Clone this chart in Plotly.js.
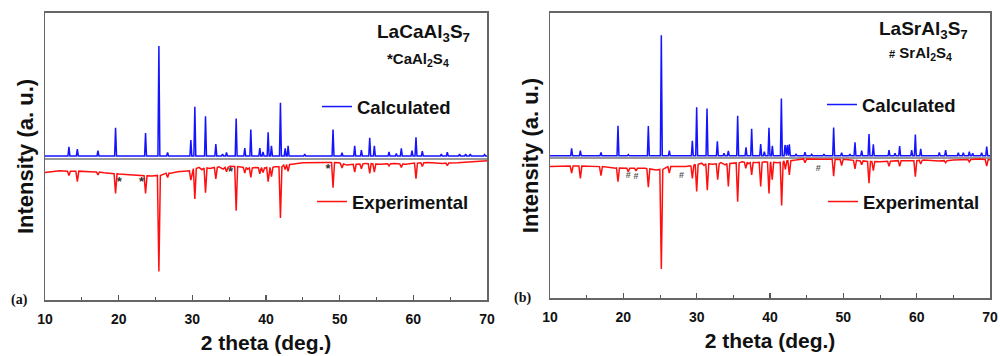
<!DOCTYPE html>
<html>
<head>
<meta charset="utf-8">
<script src="https://cdn.plot.ly/plotly-3.0.1.min.js"></script>
<style>html,body{margin:0;padding:0;background:#fff;}#chart{width:1000px;height:356px;}</style>
</head>
<body>
<div id="chart"></div>
<script>
// ---------- DATA (2 theta in deg, intensity in arbitrary units; 0 = reference line) ----------
var xRange = [10, 70];
var xTicks = [10, 20, 30, 40, 50, 60, 70];

// Panel (a) LaCaAl3S7 - calculated pattern
var calcA_base = 1.0;
var calcA_pos = [13.25,14.39,17.19,19.58,23.65,25.46,26.64,29.80,30.34,31.79,33.19,34.10,34.64,35.95,37.12,37.94,39.16,39.6,40.29,40.74,41.96,42.6,43.0,45.26,49.10,50.32,52.04,52.95,54.08,54.71,56.70,57.69,58.37,59.82,60.36,61.22,63.8,64.61,66.28,67.1,67.73,69.67];
var calcA_top = [4.2,3.4,2.8,10.8,9.0,39.3,2.2,6.5,18.1,14.8,5.1,1.6,2.2,14.0,3.7,10.2,3.7,2.4,9.2,4.5,19.5,3.6,4.5,1.6,10.2,2.1,4.5,3.0,7.3,4.5,2.4,1.8,3.6,2.8,7.5,2.7,1.6,2.3,1.6,1.6,1.6,1.5];

// Panel (a) - experimental pattern (inverted)
var expA_bgX = [10,12,16,18,20,22,24.5,26.9,28,29.3,30.9,31.3,32.4,33.6,34.2,35.1,36.6,37.5,38.6,39.9,41.2,43.5,45,48,50,51,53.5,55.5,57.5,59,62,64,66,68,70];
var expA_bgY = [-4.8,-4.2,-4.5,-4.9,-5.3,-5.7,-6.0,-5.1,-4.5,-4.2,-3.0,-3.8,-3.4,-2.8,-3.6,-2.6,-2.9,-3.6,-3.0,-3.3,-2.8,-1.9,-1.4,-1.3,-1.4,-2.2,-1.6,-1.9,-1.6,-1.9,-1.3,-1.6,-1.4,-1.0,-0.7];
var expA_pos  = [13.25,14.39,17.19,19.58,23.65,25.46,26.64,29.80,30.34,31.79,33.19,34.64,35.95,37.12,37.94,39.16,39.6,40.29,40.74,41.96,42.6,43.0,49.10,50.32,52.04,52.95,54.08,54.71,56.70,58.37,60.36,61.22,64.61];
var expA_tip  = [-5.8,-8.0,-5.6,-12.1,-12.1,-39.3,-6.5,-7.4,-14.0,-11.8,-7.0,-4.5,-18.1,-5.0,-6.5,-5.2,-4.8,-8.0,-6.2,-20.6,-3.7,-4.4,-10.1,-3.2,-4.6,-3.5,-5.1,-4.6,-2.5,-3.0,-6.9,-2.7,-2.4];
var expA_foot = [-4.3,-4.3,-4.6,-5.2,-5.9,-5.8,-5.0,-4.2,-3.4,-3.2,-3.0,-3.0,-2.7,-3.0,-3.2,-3.1,-3.2,-3.0,-3.0,-2.8,-2.2,-2.0,-1.3,-1.8,-1.9,-1.8,-1.7,-1.8,-1.7,-1.8,-1.5,-1.4,-1.5];

// Panel (a) impurity marks (CaAl2S4)
var markA_x = [20.08, 23.11, 35.18, 48.43];
var markA_y = [-8.4, -8.4, -4.9, -3.7];

// Panel (b) LaSrAl3S7 - calculated pattern
var calcB_base = 0.8;
var calcB_pos = [12.95,14.14,16.95,19.27,20.68,23.41,25.18,26.27,29.41,30.0,31.41,32.82,33.73,34.32,35.59,36.73,37.5,38.73,39.23,39.86,40.32,41.55,42.05,42.36,42.64,43.55,44.77,45.68,47.36,48.68,49.77,50.9,51.59,52.5,53.5,54.09,56.23,57.05,57.68,59.32,59.82,60.55,63.09,63.95,65.68,66.36,67.18,67.64,68.86,69.55];
var calcB_top = [3.4,2.6,2.0,11.3,1.2,11.2,43.1,2.6,6.1,17.8,17.4,5.9,1.7,2.5,14.8,3.8,10.3,4.9,2.2,10.6,4.3,20.9,4.6,4.6,4.8,1.3,2.1,1.3,1.4,10.7,1.9,1.4,5.5,2.6,8.4,4.8,2.8,1.7,4.2,2.8,8.3,3.2,2.0,2.8,1.9,1.9,2.2,1.7,1.9,4.0];

// Panel (b) - experimental pattern (inverted)
var expB_bgX = [10,12,16,19,21,23,24.5,26.9,28.5,29.2,30.7,31.0,32.2,33.3,33.9,35.0,36.2,37.0,38.0,39.3,41.0,43.5,45,47,50,51,52.5,55,57,59,61,63,65,67,68.5,70];
var expB_bgY = [-3.0,-2.7,-3.0,-3.6,-3.6,-3.6,-4.2,-3.0,-3.0,-2.7,-1.8,-2.6,-2.2,-1.6,-2.4,-1.8,-1.3,-2.0,-1.6,-1.3,-1.6,-0.7,-0.3,-0.4,-0.4,-0.7,-1.0,-1.3,-0.9,-0.9,-0.7,-1.0,-0.7,-0.5,-0.3,-0.6];
var expB_pos  = [12.95,14.14,16.95,19.27,20.68,21.73,23.41,25.18,26.27,29.41,30.0,31.45,32.87,34.32,35.59,36.7,37.5,38.73,39.86,40.3,41.59,42.1,42.64,44.77,48.68,49.77,51.59,52.5,53.5,54.09,56.23,57.68,59.82,60.55,63.95,67.18,69.55];
var expB_tip  = [-5.3,-7.1,-6.2,-8.3,-4.8,-4.5,-10.2,-38.9,-5.3,-7.1,-11.7,-11.3,-7.6,-10.0,-15.3,-3.6,-5.9,-10.0,-12.4,-7.6,-16.6,-4.0,-5.9,-1.6,-6.4,-2.6,-3.8,-2.3,-8.8,-4.4,-2.9,-2.9,-6.5,-2.1,-1.6,-1.3,-2.8];
var expB_foot = [-2.8,-2.8,-3.0,-3.5,-3.6,-3.6,-3.8,-4.0,-3.0,-2.6,-2.2,-2.0,-2.0,-1.9,-1.7,-1.4,-1.6,-1.5,-1.4,-1.5,-1.5,-1.0,-0.9,-0.3,-0.4,-0.5,-0.8,-1.0,-1.2,-1.2,-1.1,-0.9,-0.9,-0.8,-0.9,-0.5,-0.5];

// Panel (b) impurity marks (SrAl2S4)
var markB_x = [20.68, 21.73, 27.95, 46.59];
var markB_y = [-6.2, -6.7, -6.2, -3.8];

// ---------- BUILDERS ----------
function calcLine(pos, top, base, w) {
  var pts = [[xRange[0], base]];
  for (var i = 0; i < pos.length; i++) {
    pts.push([pos[i] - w, base], [pos[i], top[i]], [pos[i] + w, base]);
  }
  pts.push([xRange[1], base]);
  return {x: pts.map(function(p){return p[0];}), y: pts.map(function(p){return p[1];})};
}
function expLine(bgX, bgY, pos, tip, foot, w) {
  var pts = [];
  for (var j = 0; j < bgX.length; j++) {
    var inside = false;
    for (var k = 0; k < pos.length; k++) {
      if (Math.abs(bgX[j] - pos[k]) <= w) { inside = true; break; }
    }
    if (!inside) pts.push([bgX[j], bgY[j]]);
  }
  for (var i = 0; i < pos.length; i++) {
    pts.push([pos[i] - w, foot[i]], [pos[i], tip[i]], [pos[i] + w, foot[i]]);
  }
  pts.sort(function(a, b){ return a[0] - b[0]; });
  return {x: pts.map(function(p){return p[0];}), y: pts.map(function(p){return p[1];})};
}

var FONT = 'Liberation Sans, Arial, sans-serif';
var BLUE = '#1414ff', RED = '#ff1010';

var cA = calcLine(calcA_pos, calcA_top, calcA_base, 0.13);
var eA = expLine(expA_bgX, expA_bgY, expA_pos, expA_tip, expA_foot, 0.2);
var cB = calcLine(calcB_pos, calcB_top, calcB_base, 0.13);
var eB = expLine(expB_bgX, expB_bgY, expB_pos, expB_tip, expB_foot, 0.2);

var traces = [
  {x: cA.x, y: cA.y, xaxis: 'x', yaxis: 'y', mode: 'lines', name: 'Calculated', legend: 'legend',
   line: {color: BLUE, width: 1.5}},
  {x: eA.x, y: eA.y, xaxis: 'x', yaxis: 'y', mode: 'lines', name: 'Experimental', legend: 'legend2',
   line: {color: RED, width: 1.5}},
  {x: markA_x, y: markA_y, xaxis: 'x', yaxis: 'y', mode: 'text', text: markA_x.map(function(){return '*';}),
   textfont: {family: FONT, size: 13, color: '#333', weight: 'bold'}, showlegend: false, hoverinfo: 'skip'},
  {x: cB.x, y: cB.y, xaxis: 'x2', yaxis: 'y2', mode: 'lines', name: 'Calculated', legend: 'legend3',
   line: {color: BLUE, width: 1.5}},
  {x: eB.x, y: eB.y, xaxis: 'x2', yaxis: 'y2', mode: 'lines', name: 'Experimental', legend: 'legend4',
   line: {color: RED, width: 1.5}},
  {x: markB_x, y: markB_y, xaxis: 'x2', yaxis: 'y2', mode: 'text', text: markB_x.map(function(){return '#';}),
   textfont: {family: FONT, size: 9, color: '#555', weight: 'bold'}, showlegend: false, hoverinfo: 'skip'}
];

function xax(domain, anchor) {
  return {
    domain: domain, anchor: anchor, range: xRange, tickvals: xTicks,
    ticks: 'inside', ticklen: 5, tickwidth: 1.2, tickcolor: '#555',
    minor: {dtick: 5, ticks: 'inside', ticklen: 3, tickcolor: '#555', tickwidth: 1},
    showline: true, mirror: true, linecolor: '#666', linewidth: 1.5,
    showgrid: false, zeroline: false,
    tickfont: {family: FONT, size: 14, color: '#111', weight: 'bold'},
    ticklabelstandoff: 6,
    title: {text: '2 theta (deg.)', font: {family: FONT, size: 21, color: '#111', weight: 'bold'}, standoff: 9}
  };
}
function yax(domain, anchor, range) {
  return {
    domain: domain, anchor: anchor, range: range,
    showticklabels: false, ticks: '', showgrid: false,
    showline: true, mirror: true, linecolor: '#666', linewidth: 1.5,
    zeroline: true, zerolinecolor: '#999', zerolinewidth: 1.6,
    title: {text: 'Intensity (a. u.)', font: {family: FONT, size: 22, color: '#111', weight: 'bold'}, standoff: 4}
  };
}
function leg(x, y) {
  return {x: x, y: y, xanchor: 'left', yanchor: 'middle', bgcolor: 'rgba(0,0,0,0)', borderwidth: 0,
          font: {family: FONT, size: 18.5, color: '#111', weight: 'bold'}};
}

var layout = {
  width: 1000, height: 356,
  margin: {l: 0, r: 0, t: 0, b: 0},
  paper_bgcolor: '#fff', plot_bgcolor: '#fff',
  showlegend: true,
  xaxis: xax([0.045, 0.487], 'y'),
  yaxis: yax([0.1573, 0.9635], 'x', [-49.2, 50.8]),
  xaxis2: xax([0.550, 0.990], 'y2'),
  yaxis2: yax([0.1629, 0.9635], 'x2', [-49.1, 50.9]),
  legend: leg(0.317, 0.6994),
  legend2: leg(0.312, 0.4326),
  legend3: leg(0.822, 0.7051),
  legend4: leg(0.823, 0.4326),
  annotations: [
    {xref: 'paper', yref: 'paper', x: 0.472, y: 0.9073, xanchor: 'right', yanchor: 'middle', showarrow: false,
     text: 'LaCaAl<sub>3</sub>S<sub>7</sub>', font: {family: FONT, size: 19, color: '#111', weight: 'bold'}},
    {xref: 'paper', yref: 'paper', x: 0.385, y: 0.8315, xanchor: 'left', yanchor: 'middle', showarrow: false,
     text: '*CaAl<sub>2</sub>S<sub>4</sub>', font: {family: FONT, size: 15, color: '#111', weight: 'bold'}},
    {xref: 'paper', yref: 'paper', x: 0.970, y: 0.9157, xanchor: 'right', yanchor: 'middle', showarrow: false,
     text: 'LaSrAl<sub>3</sub>S<sub>7</sub>', font: {family: FONT, size: 19, color: '#111', weight: 'bold'}},
    {xref: 'paper', yref: 'paper', x: 0.887, y: 0.8511, xanchor: 'left', yanchor: 'middle', showarrow: false,
     text: '<span style="font-size:11px">#</span> SrAl<sub>2</sub>S<sub>4</sub>', font: {family: FONT, size: 15, color: '#111', weight: 'bold'}},
    {xref: 'paper', yref: 'paper', x: 0.0195, y: 0.1573, xanchor: 'center', yanchor: 'middle', showarrow: false,
     text: '(a)', font: {family: 'Liberation Serif, Times New Roman, serif', size: 14, color: '#111', weight: 'bold'}},
    {xref: 'paper', yref: 'paper', x: 0.522, y: 0.1629, xanchor: 'center', yanchor: 'middle', showarrow: false,
     text: '(b)', font: {family: 'Liberation Serif, Times New Roman, serif', size: 14, color: '#111', weight: 'bold'}}
  ]
};

Plotly.newPlot('chart', traces, layout, {displayModeBar: false, staticPlot: true});
</script>
</body>
</html>
